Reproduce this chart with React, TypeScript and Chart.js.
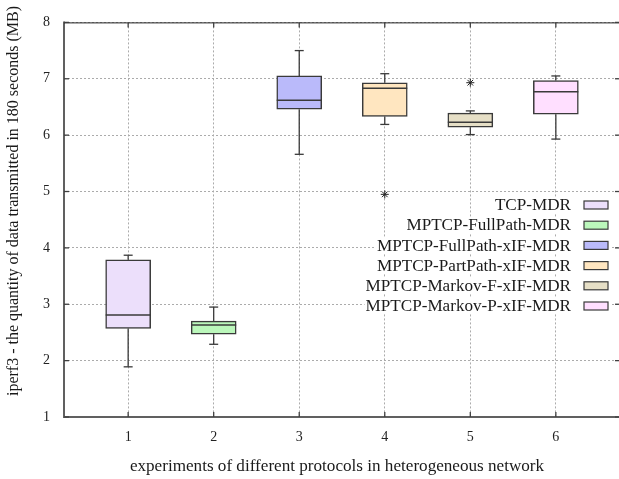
import React, { useEffect, useRef } from 'react';
import { Chart, registerables } from 'chart.js';

Chart.register(...registerables);

// ---- data ----
const categories = [1, 2, 3, 4, 5, 6];
const seriesNames = [
  'TCP-MDR',
  'MPTCP-FullPath-MDR',
  'MPTCP-FullPath-xIF-MDR',
  'MPTCP-PartPath-xIF-MDR',
  'MPTCP-Markov-F-xIF-MDR',
  'MPTCP-Markov-P-xIF-MDR',
];
const whiskerLow = [1.89, 2.29, 5.66, 6.19, 6.01, 5.93];
const q1 = [2.57, 2.47, 6.46, 6.33, 6.14, 6.37];
const median = [2.81, 2.63, 6.62, 6.83, 6.23, 6.77];
const q3 = [3.79, 2.7, 7.05, 6.93, 6.39, 6.97];
const whiskerHigh = [3.87, 2.95, 7.5, 7.09, 6.43, 7.05];
const outlierX = [4, 5];
const outlierY = [4.95, 6.93];
const yTickValues = [1, 2, 3, 4, 5, 6, 7, 8];
const xTitle = 'experiments of different protocols in heterogeneous network';
const yTitle = 'iperf3 - the quantity of data transmitted in 180 seconds (MB)';

// ---- style ----
const fills = ['#ecdffb', '#bbf7bb', '#babafa', '#ffe6c0', '#e6dfc6', '#ffdfff'];
const SERIF = '"Liberation Serif", "DejaVu Serif", serif';
const EDGE = '#3a3a3a';
const SX = 1.07;
const CANVAS_W = 640;
const PLOT_RIGHT = 620;

function hLine(ctx: CanvasRenderingContext2D, x1: number, y1: number, x2: number, y2: number) {
  ctx.beginPath();
  ctx.moveTo(x1, y1);
  ctx.lineTo(x2, y2);
  ctx.stroke();
}

const LEG_RIGHT = 571;
const LEG_Y0 = 205;
const LEG_DY = 20.2;
const SW_X = 584;
const SW_W = 24;
const SW_H = 8;

const boxPlugin = {
  id: 'boxExtras',
  beforeDatasetsDraw(chart: any) {
    const { ctx, scales } = chart;
    const x = scales.x;
    const y = scales.y;
    ctx.save();
    // legend row backgrounds (opaque key)
    ctx.font = `16px ${SERIF}`;
    seriesNames.forEach((n, i) => {
      const w = ctx.measureText(n).width * SX;
      const cy = LEG_Y0 + i * LEG_DY;
      ctx.fillStyle = '#ffffff';
      ctx.fillRect(LEG_RIGHT - w - 1, cy - 8, w + 1 + (SW_X + SW_W - LEG_RIGHT) + 3, 16);
    });
    // whiskers
    ctx.strokeStyle = EDGE;
    ctx.lineWidth = 1.3;
    categories.forEach((c, i) => {
      const px = x.getPixelForValue(c);
      const cap = 4.5;
      const pairs: [number, number][] = [
        [whiskerLow[i], q1[i]],
        [whiskerHigh[i], q3[i]],
      ];
      pairs.forEach(([end, edge]) => {
        const pe = y.getPixelForValue(end);
        const pb = y.getPixelForValue(edge);
        hLine(ctx, px, pe, px, pb);
        hLine(ctx, px - cap, pe, px + cap, pe);
      });
    });
    ctx.restore();
  },
  afterDatasetsDraw(chart: any) {
    const { ctx, scales, chartArea } = chart;
    const x = scales.x;
    const y = scales.y;
    ctx.save();
    // medians
    ctx.strokeStyle = EDGE;
    ctx.lineWidth = 1.5;
    categories.forEach((c, i) => {
      const px = x.getPixelForValue(c);
      const pm = y.getPixelForValue(median[i]);
      hLine(ctx, px - 22.5, pm, px + 22.5, pm);
    });
    // frame
    const { left, right, top, bottom } = chartArea;
    ctx.strokeStyle = '#606060';
    ctx.lineWidth = 2;
    hLine(ctx, left, top - 1, left, bottom + 1);
    hLine(ctx, left - 1, bottom, right, bottom);
    hLine(ctx, right, top, right, bottom);
    ctx.strokeStyle = '#202020';
    ctx.lineWidth = 1;
    hLine(ctx, left, top + 0.5, right, top + 0.5);
    // inward ticks
    ctx.strokeStyle = '#404040';
    ctx.lineWidth = 1.3;
    const tl = 5;
    yTickValues.forEach((v) => {
      const py = y.getPixelForValue(v);
      hLine(ctx, left, py, left + tl, py);
      hLine(ctx, right - tl, py, right, py);
    });
    categories.forEach((c) => {
      const px = x.getPixelForValue(c);
      hLine(ctx, px, bottom, px, bottom - tl);
      hLine(ctx, px, top, px, top + tl);
    });
    ctx.restore();
  },
  afterDraw(chart: any) {
    const { ctx } = chart;
    ctx.save();
    // legend
    ctx.font = `16px ${SERIF}`;
    ctx.textBaseline = 'middle';
    ctx.textAlign = 'right';
    seriesNames.forEach((n, i) => {
      const cy = LEG_Y0 + i * LEG_DY;
      ctx.save();
      ctx.translate(LEG_RIGHT, cy + 1);
      ctx.scale(SX, 1);
      ctx.fillStyle = '#1a1a1a';
      ctx.fillText(n, 0, 0);
      ctx.restore();
      ctx.fillStyle = fills[i];
      ctx.fillRect(SW_X, cy - SW_H / 2, SW_W, SW_H);
      ctx.strokeStyle = EDGE;
      ctx.lineWidth = 1.2;
      ctx.strokeRect(SW_X, cy - SW_H / 2, SW_W, SW_H);
    });
    // axis titles
    ctx.fillStyle = '#1a1a1a';
    ctx.textAlign = 'center';
    ctx.save();
    ctx.translate(337, 467);
    ctx.scale(SX, 1);
    ctx.fillText(xTitle, 0, 0);
    ctx.restore();
    ctx.save();
    ctx.translate(14, 201);
    ctx.rotate(-Math.PI / 2);
    ctx.fillText(yTitle, 0, 0);
    ctx.restore();
    ctx.restore();
  },
};

export default function App() {
  const ref = useRef<HTMLCanvasElement | null>(null);
  useEffect(() => {
    if (!ref.current) return;
    const boxDatasets: any[] = seriesNames.map((name, i) => ({
      type: 'bar',
      label: name,
      data: [{ x: categories[i], y: [q1[i], q3[i]] }],
      backgroundColor: fills[i],
      borderColor: EDGE,
      borderWidth: 1.5,
      borderSkipped: false,
      barThickness: 45,
      grouped: false,
      order: 2,
    }));
    const outlierDataset: any = {
      type: 'scatter',
      label: 'outliers',
      data: outlierX.map((v, i) => ({ x: v, y: outlierY[i] })),
      pointStyle: 'star',
      radius: 4,
      borderColor: '#222',
      borderWidth: 1,
      backgroundColor: '#222',
      order: 1,
    };
    const tickFont = { family: SERIF, size: 14 };
    const chart = new Chart(ref.current, {
      type: 'bar',
      data: { datasets: [...boxDatasets, outlierDataset] },
      options: {
        animation: false,
        responsive: false,
        devicePixelRatio: 1,
        layout: { padding: { top: 17, right: CANVAS_W - PLOT_RIGHT, left: 0, bottom: 0 } },
        plugins: { legend: { display: false }, tooltip: { enabled: false } },
        scales: {
          x: {
            type: 'linear',
            min: 0.25,
            max: 6.75,
            offset: false,
            afterBuildTicks: (s: any) => {
              s.ticks = categories.map((v) => ({ value: v }));
            },
            afterFit: (s: any) => {
              s.height = 62;
            },
            grid: { offset: false, color: '#ababab', lineWidth: 1, drawTicks: false },
            border: { display: false, dash: [2, 2] },
            ticks: { font: tickFont, color: '#222', padding: 12, maxRotation: 0, autoSkip: false },
          },
          y: {
            type: 'linear',
            min: 1,
            max: 8,
            afterBuildTicks: (s: any) => {
              s.ticks = yTickValues.map((v) => ({ value: v }));
            },
            afterFit: (s: any) => {
              s.width = 64;
            },
            grid: { color: '#ababab', lineWidth: 1, drawTicks: false },
            border: { display: false, dash: [2, 2] },
            ticks: { font: tickFont, color: '#222', padding: 14 },
          },
        },
      } as any,
      plugins: [boxPlugin],
    });
    return () => chart.destroy();
  }, []);
  return (
    <div style={{ position: 'fixed', left: 0, top: 0, width: 619, height: 479, overflow: 'hidden', background: '#fff' }}>
      <canvas ref={ref} width={CANVAS_W} height={479} style={{ width: CANVAS_W, height: 479, display: 'block' }} />
    </div>
  );
}
